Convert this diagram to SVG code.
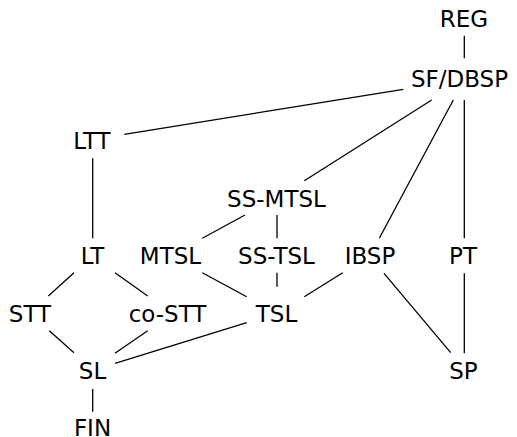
<svg xmlns="http://www.w3.org/2000/svg" width="517" height="437" viewBox="0 0 517 437">
<style>
text{font-family:"DejaVu Sans",sans-serif;font-size:23px;fill:#000;text-anchor:middle}
.e line{stroke:#000;stroke-width:1.3}
</style>
<rect width="517" height="437" fill="#fff"/>
<g class="e" id="connectors">
<line x1="464.3" y1="35.7" x2="464.3" y2="58.3"/>
<line x1="403.3" y1="89.3" x2="124.3" y2="134.3"/>
<line x1="431.7" y1="100" x2="304.3" y2="180.7"/>
<line x1="453.3" y1="100" x2="379.3" y2="238.3"/>
<line x1="464.3" y1="100" x2="464.3" y2="238.3"/>
<line x1="92.7" y1="158.3" x2="92.7" y2="238.3"/>
<line x1="245" y1="215" x2="202.3" y2="238.3"/>
<line x1="277" y1="215" x2="277" y2="238.3"/>
<line x1="74" y1="272.7" x2="48.3" y2="296"/>
<line x1="115" y1="272.7" x2="147.7" y2="296"/>
<line x1="202.3" y1="272.7" x2="246.7" y2="296.7"/>
<line x1="277" y1="272.7" x2="277" y2="286.7"/>
<line x1="342.7" y1="272.7" x2="304.3" y2="296.7"/>
<line x1="384" y1="273.3" x2="450.7" y2="352.7"/>
<line x1="464.3" y1="273.3" x2="464.3" y2="353.3"/>
<line x1="49.3" y1="330.7" x2="74" y2="352.7"/>
<line x1="147.7" y1="330.7" x2="115" y2="353.3"/>
<line x1="246.7" y1="322.7" x2="115" y2="363.3"/>
<line x1="92.7" y1="389" x2="92.7" y2="411.7"/>
</g>
<g id="REG"><text x="464" y="26.7">REG</text></g>
<g id="SF-DBSP"><text x="459.5" y="87.3">SF/DBSP</text></g>
<g id="LTT"><text x="92" y="149.3">LTT</text></g>
<g id="SS-MTSL"><text x="276.5" y="206.7">SS-MTSL</text></g>
<g id="LT"><text x="92.5" y="264">LT</text></g>
<g id="MTSL"><text x="170.5" y="264">MTSL</text></g>
<g id="SS-TSL"><text x="276.5" y="264">SS-TSL</text></g>
<g id="IBSP"><text x="370" y="264">IBSP</text></g>
<g id="PT"><text x="463" y="264">PT</text></g>
<g id="STT"><text x="30" y="321.7">STT</text></g>
<g id="co-STT"><text x="167.5" y="321.7">co-STT</text></g>
<g id="TSL"><text x="276.5" y="321.7">TSL</text></g>
<g id="SL"><text x="92.5" y="379">SL</text></g>
<g id="SP"><text x="463.5" y="379">SP</text></g>
<g id="FIN"><text x="92.5" y="435.5">FIN</text></g>
</svg>
